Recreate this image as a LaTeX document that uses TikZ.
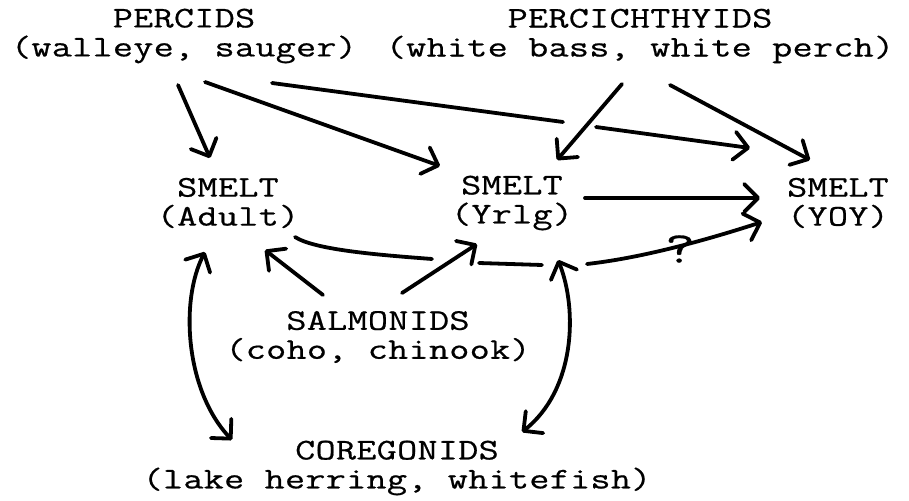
\documentclass[tikz,border=0pt]{standalone}
\usepackage{fontspec}
\newfontfamily\tw{Latin Modern Mono}[FakeStretch=1.3,LetterSpace=1,FakeBold=0.6]
\usetikzlibrary{arrows.meta,calc}
\begin{document}
\begin{tikzpicture}[x=1pt,y=-1pt,
  lbl/.style={font={\tw\fontsize{30}{29}\selectfont}, align=center, inner sep=0pt},
  con/.style={line width=3.8pt, line cap=round, line join=round},
  arr/.style={con, -{Straight Barb[length=14pt,width=28pt,round]}},
  dbl/.style={con, {Straight Barb[length=14pt,width=28pt,round]}-{Straight Barb[length=14pt,width=28pt,round]}}]
\useasboundingbox (0,0) rectangle (909,500);
\fill[white] (0,0) rectangle (909,500);

\node[lbl] (percids) at (184,36) {PERCIDS\\(walleye, sauger)};
\node[lbl] (perci) at (640,36) {PERCICHTHYIDS\\(white bass, white perch)};
\node[lbl] (adult) at (228,203) {SMELT\\(Adult)};
\node[lbl] (yrlg) at (512,203) {SMELT\\(Yrlg)};
\node[lbl] (yoy) at (838,203) {SMELT\\(YOY)};
\node[lbl] (salm) at (378,337) {SALMONIDS\\(coho, chinook)};
\node[lbl] (coreg) at (397,468) {COREGONIDS\\(lake herring, whitefish)};
\node[font={\tw\fontsize{44}{44}\selectfont}, inner sep=0pt] (qm) at (680,249) {?};

\coordinate (gA) at (563,122);
\coordinate (gB) at (596,127);
\coordinate (q1) at (432,259);
\coordinate (q2) at (479,263);
\coordinate (q3) at (542,265);
\coordinate (q4) at (587,264);

% PERCIDS
\draw[arr] ([shift={(-6,49)}]percids.center) -- ([shift={(-18,-45)}]adult.center);
\draw[arr] ([shift={(21,46)}]percids.center) -- ([shift={(-72,-37)}]yrlg.center);
\draw[con] ([shift={(88,47)}]percids.center) -- (gA);
\draw[arr] (gB) -- ([shift={(-88,-55)}]yoy.center);

% PERCICHTHYIDS
\draw[arr] ([shift={(-18,48)}]perci.center) -- ([shift={(45,-43)}]yrlg.center);
\draw[arr] ([shift={(30,49)}]perci.center) -- ([shift={(-28,-43)}]yoy.center);

% Yrlg -> YOY
\draw[arr] ([shift={(73,-5)}]yrlg.center) -- ([shift={(-78,-5)}]yoy.center);

% Adult -> YOY (?)
\draw[con] ([shift={(67,34)}]adult.center) .. controls (315,250) and (380,255) .. (q1);
\draw[con] (q2) -- (q3);
\draw[arr] (q4) .. controls (640,258) and (700,242) .. ([shift={(-76,19)}]yoy.center);

% SALMONIDS
\draw[arr] ([shift={(-55,-42)}]salm.center) -- ([shift={(37,47)}]adult.center);
\draw[arr] ([shift={(24,-44)}]salm.center) -- ([shift={(-35,41)}]yrlg.center);

% COREGONIDS
\draw[dbl] ([shift={(-23,49)}]adult.center) .. controls (180,300) and (185,390) .. ([shift={(-165,-28)}]coreg.center);
\draw[dbl] ([shift={(46,57)}]yrlg.center) .. controls (578,310) and (575,390) .. ([shift={(125,-36)}]coreg.center);
\end{tikzpicture}
\end{document}
